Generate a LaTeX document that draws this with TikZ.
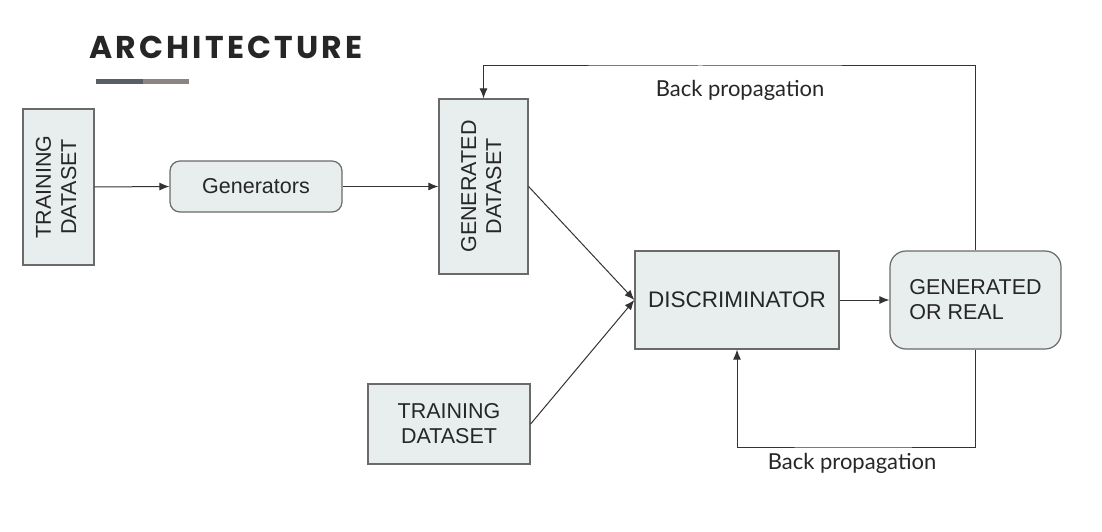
\documentclass[tikz,border=0pt]{standalone}
\usepackage{fontspec}
\setmainfont{Liberation Sans}
\newfontfamily\latofont{Lato}
\newfontfamily\titlefont{Poppins}[LetterSpace=10]
\usetikzlibrary{arrows.meta}
\definecolor{boxfill}{HTML}{E8EEEE}
\definecolor{boxline}{HTML}{6A6A6A}
\definecolor{wire}{HTML}{333333}
\definecolor{titlecol}{HTML}{262626}
\definecolor{bardark}{HTML}{5A5F63}
\definecolor{barlight}{HTML}{8A8582}
\tikzset{
  box/.style={draw=boxline, line width=1.2pt, fill=boxfill, inner sep=0pt, align=center, font=\fontsize{21.5}{25}\selectfont, text=black!85},
  rbox/.style={box, rounded corners=10pt},
  wirearrow/.style={draw=wire, line width=1pt, -{Latex[length=10pt,width=8pt]}},
  bplabel/.style={font=\latofont\fontsize{22}{25}\selectfont, text=black!85}
}
\begin{document}
\begin{tikzpicture}[x=1pt,y=-1pt]
\useasboundingbox[fill=white] (0,0) rectangle (1102,532);
% title
\node[font=\titlefont\bfseries\fontsize{31.5}{34}\selectfont, text=titlecol] (title) at (226,47) {ARCHITECTURE};
\fill[bardark] (96,79) rectangle (143,84);
\fill[barlight] (143,79) rectangle (189,84);
% nodes
\node[box, minimum width=71pt, minimum height=156pt] (td1) at (58.5,187) {\rotatebox{90}{\begin{tabular}{@{}c@{}}TRAINING\\DATASET\end{tabular}}};
\node[rbox, minimum width=172pt, minimum height=51pt] (gen) at (256,186.5) {Generators};
\node[box, minimum width=89pt, minimum height=175pt] (gd) at (483.5,186.5) {\rotatebox{90}{\begin{tabular}{@{}c@{}}GENERATED\\DATASET\end{tabular}}};
\node[box, minimum width=204pt, minimum height=98pt, font=\fontsize{22.5}{25}\selectfont] (disc) at (737,300) {DISCRIMINATOR};
\node[rbox, rounded corners=16pt, minimum width=171pt, minimum height=98pt, align=left] (gr) at (975.5,300) {GENERATED\\OR REAL};
\node[box, minimum width=162pt, minimum height=80pt] (td2) at (449,424) {TRAINING\\DATASET};
% connectors
\draw[wirearrow] (td1.east) -- (gen.west);
\draw[wirearrow] (gen.east) -- (gd.west);
\draw[wirearrow] (gd.east) -- (disc.west);
\draw[wirearrow] (td2.east) -- (disc.west);
\draw[wirearrow] (disc.east) -- (gr.west);
\coordinate (topc) at (700,66);
\coordinate (botc) at (850,447);
\draw[wirearrow] (gr.north) |- (topc) -| (gd.north);
\draw[wirearrow] (gr.south) |- (botc) -| (disc.south);
\node[bplabel] (bp1) at (740,90) {Back propagation};
\node[bplabel] (bp2) at (852,463) {Back propagation};
\end{tikzpicture}
\end{document}
